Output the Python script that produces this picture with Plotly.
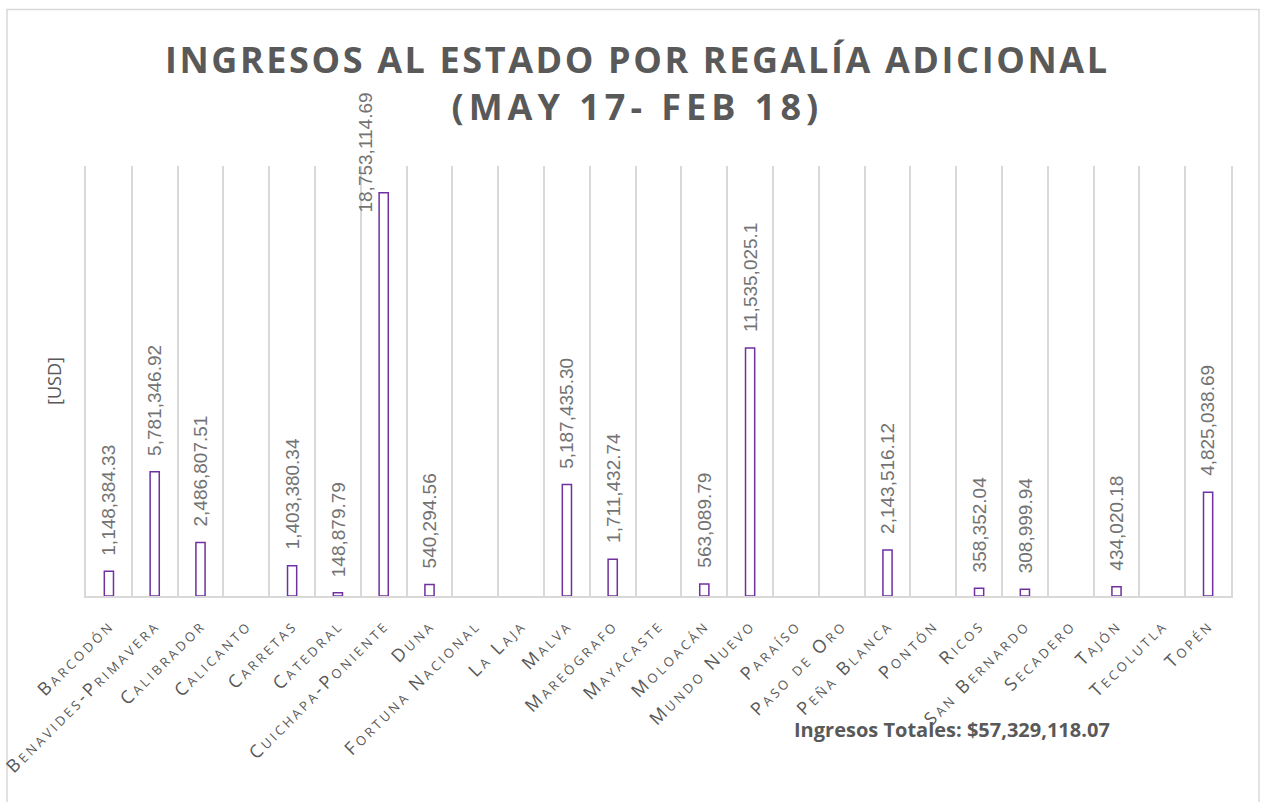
import plotly.graph_objects as go

# Campos petroleros y regalía adicional pagada al Estado (USD)
campos = [
    "Barcodón", "Benavides-Primavera", "Calibrador", "Calicanto", "Carretas",
    "Catedral", "Cuichapa-Poniente", "Duna", "Fortuna Nacional", "La Laja",
    "Malva", "Mareógrafo", "Mayacaste", "Moloacán", "Mundo Nuevo", "Paraíso",
    "Paso de Oro", "Peña Blanca", "Pontón", "Ricos", "San Bernardo",
    "Secadero", "Tajón", "Tecolutla", "Topén",
]
ingresos = [
    1148384.33, 5781346.92, 2486807.51, None, 1403380.34,
    148879.79, 18753114.69, 540294.56, None, None,
    5187435.30, 1711432.74, None, 563089.79, 11535025.1, None,
    None, 2143516.12, None, 358352.04, 308999.94,
    None, 434020.18, None, 4825038.69,
]
etiquetas = [
    "1,148,384.33", "5,781,346.92", "2,486,807.51", None, "1,403,380.34",
    "148,879.79", "18,753,114.69", "540,294.56", None, None,
    "5,187,435.30", "1,711,432.74", None, "563,089.79", "11,535,025.1", None,
    None, "2,143,516.12", None, "358,352.04", "308,999.94",
    None, "434,020.18", None, "4,825,038.69",
]
total_texto = "Ingresos Totales: $57,329,118.07"

GRIS = "#595959"
GRIS_ETIQ = "#737373"
MORADO = "#7030A0"
REJILLA = "#d9d9d9"

# Geometría del área de trazado (px)
W, H = 1262, 802
L, R, T, B = 86, 31, 166, 206
PW, PH = W - L - R, H - T - B


def px_x(x):
    return (x - L) / PW


def px_y(y):
    return (H - B - y) / PH


fig = go.Figure(
    go.Bar(
        x=campos,
        y=ingresos,
        width=0.2,
        marker=dict(color="white", line=dict(color=MORADO, width=1.5)),
        hoverinfo="x+y",
    )
)

# Etiquetas de valor verticales sobre cada barra
maximo = max(v for v in ingresos if v is not None)
for campo, valor, texto in zip(campos, ingresos, etiquetas):
    if valor is None:
        continue
    es_max = valor == maximo
    fig.add_annotation(
        x=campo, y=valor, xref="x", yref="y",
        text=texto, textangle=-90, showarrow=False,
        xanchor="center", yanchor="bottom",
        xshift=-18 if es_max else 0,
        yshift=-22 if es_max else 14,
        font=dict(family="Liberation Sans, Arial, sans-serif", size=19, color=GRIS_ETIQ),
    )

fig.add_annotation(
    x=px_x(952), y=px_y(729), xref="paper", yref="paper",
    text=f"<b>{total_texto}</b>", showarrow=False,
    xanchor="center", yanchor="middle",
    font=dict(family="Open Sans, sans-serif", size=20, color=GRIS),
)

# Marco del área del gráfico
fig.add_shape(
    type="rect", xref="paper", yref="paper",
    x0=px_x(7), x1=px_x(1259),
    y0=px_y(812), y1=px_y(9.5),
    line=dict(color=REJILLA, width=1.5), fillcolor="rgba(0,0,0,0)", layer="below",
)

ticks = [f'<span style="letter-spacing:3px">{c}</span>' for c in campos]

fig.update_layout(
    width=W, height=H,
    margin=dict(l=L, r=R, t=T, b=B, autoexpand=False),
    paper_bgcolor="white", plot_bgcolor="white",
    showlegend=False,
    title=dict(
        text=('<span style="letter-spacing:2.6px">INGRESOS AL ESTADO POR REGALÍA ADICIONAL</span><br>'
              '<span style="letter-spacing:5px">(MAY 17- FEB 18)</span>'),
        x=0.505, xanchor="center", xref="container",
        y=1 - 73 / 802, yanchor="top", yref="container",
        font=dict(family="Open Sans, sans-serif", size=36, color=GRIS, weight="bold"),
        automargin=False,
    ),
    xaxis=dict(
        tickmode="array", tickvals=campos, ticktext=ticks,
        tickangle=-45, tickson="boundaries", automargin=False,
        showgrid=True, gridcolor=REJILLA, gridwidth=1.5,
        showline=True, linecolor=REJILLA, linewidth=1.5,
        ticks="", ticklabelstandoff=10,
        tickfont=dict(family="Open Sans, sans-serif", size=18, color=GRIS, variant="small-caps"),
        range=[-0.5, 24.5],
    ),
    yaxis=dict(
        range=[0, 20000000], showgrid=False, zeroline=False, automargin=False,
        showticklabels=False, ticks="",
        showline=True, mirror=True, linecolor=REJILLA, linewidth=1.5,
        title=dict(text="[USD]", standoff=18,
                   font=dict(family="Open Sans, sans-serif", size=18, color=GRIS)),
    ),
    bargap=0.8,
)

fig.write_html("out.html")
